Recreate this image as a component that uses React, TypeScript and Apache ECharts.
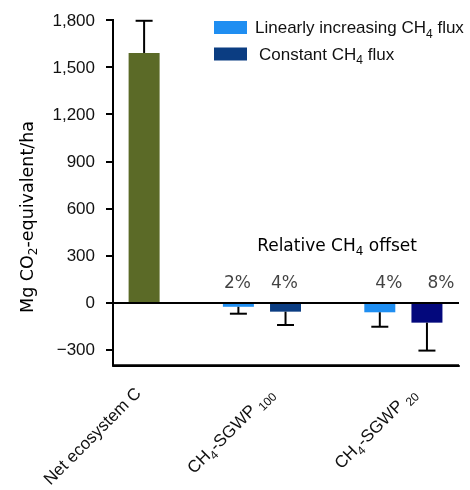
import React, { useEffect, useRef } from 'react';
import * as echarts from 'echarts';

// ---- data ----
const categories = ['Net ecosystem C', 'CH4-SGWP 100', 'CH4-SGWP 20'];
const netValues = [1590];
const netErrors = [205];
const linearValues = [-27, -62];
const linearErrors = [44, 92];
const constantValues = [-58, -128];
const constantErrors = [85, 178];
const offsetLabels = ['2%', '4%', '4%', '8%'];
const yTicks = [-300, 0, 300, 600, 900, 1200, 1500, 1800];

// ---- layout (bar slots on x axis) ----
const X_MIN = -0.66;
const X_MAX = 6.68;
const Y_MIN = -400;
const Y_MAX = 1800;
const netSlots = [0];
const linearSlots = [2, 5];
const constantSlots = [3, 6];
const categorySlots = [-0.13, 2.68, 5.7];
const pctSlots = [2, 3, 5, 6];
const pctOffsets = [-1, -1, 9, 14];
const pctY = 130;

const AR = '"Liberation Sans", Arial, Helvetica, sans-serif';
const DJ = '"DejaVu Sans", Verdana, sans-serif';
const TXT = '#111';

const richA = {
  t: { fontFamily: AR, fontSize: 17, color: TXT, lineHeight: 20 },
  s: { fontFamily: AR, fontSize: 12, color: TXT, lineHeight: 20, padding: [6, 0, -6, 0] },
};
const richD = {
  t: { fontFamily: DJ, fontSize: 17, color: TXT, lineHeight: 20 },
  s: { fontFamily: DJ, fontSize: 12, color: TXT, lineHeight: 20, padding: [6, 0, -6, 0] },
};
const richD18 = {
  t: { fontFamily: DJ, fontSize: 17.5, color: TXT, lineHeight: 20 },
  s: { fontFamily: DJ, fontSize: 12, color: TXT, lineHeight: 20, padding: [6, 0, -6, 0] },
};
const richLegend = {
  l: { fontFamily: AR, fontSize: 17, color: TXT, lineHeight: 20, padding: [0, 0, 0, 3] },
  c: { fontFamily: AR, fontSize: 17, color: TXT, lineHeight: 20, padding: [0, 0, 0, 7] },
  t: { fontFamily: AR, fontSize: 17, color: TXT, lineHeight: 20 },
  s: { fontFamily: AR, fontSize: 12, color: TXT, lineHeight: 20, padding: [6, 0, -6, 0] },
};

const LINEAR = 'Linearly increasing CH4 flux';
const CONSTANT = 'Constant CH4 flux';

function catLabel(name: string) {
  if (name.startsWith('CH4-SGWP')) {
    const n = name.split(' ')[1];
    return `{t|CH}{s|4}{t|-SGWP }{s|${n}}`;
  }
  return `{t|${name}}`;
}

export default function App() {
  const ref = useRef<HTMLDivElement>(null);
  useEffect(() => {
    if (!ref.current) return;
    const chart = echarts.init(ref.current, undefined, { renderer: 'svg' });

    const errData: number[][] = [];
    netSlots.forEach((x, i) => errData.push([x, netValues[i], netValues[i] + netErrors[i]]));
    linearSlots.forEach((x, i) => errData.push([x, linearValues[i], linearValues[i] - linearErrors[i]]));
    constantSlots.forEach((x, i) => errData.push([x, constantValues[i], constantValues[i] - constantErrors[i]]));

    const option: any = {
      animation: false,
      grid: { left: 113, right: 11, top: 20, bottom: 124 },
      legend: {
        orient: 'vertical',
        left: 214,
        top: 19,
        padding: 0,
        itemWidth: 33,
        itemHeight: 13,
        itemGap: 6,
        icon: 'rect',
        data: [LINEAR, CONSTANT],
        formatter: (name: string) =>
          name === LINEAR ? '{l|Linearly increasing CH}{s|4}{t| flux}' : '{c|Constant CH}{s|4}{t| flux}',
        textStyle: { rich: richLegend },
      },
      xAxis: {
        type: 'value',
        z: 100,
        min: X_MIN,
        max: X_MAX,
        splitLine: { show: false },
        axisLine: { show: true, onZero: false, lineStyle: { color: '#000', width: 2 } },
        axisTick: { show: false },
        axisLabel: {
          customValues: categorySlots,
          rotate: 45,
          margin: 25,
          formatter: (v: number) => {
            const i = categorySlots.findIndex((s) => Math.abs(s - v) < 0.001);
            return i >= 0 ? catLabel(categories[i]) : '';
          },
          rich: richA,
        },
      },
      yAxis: {
        type: 'value',
        z: 100,
        min: Y_MIN,
        max: Y_MAX,
        splitLine: { show: false },
        axisLine: { show: true, onZero: false, lineStyle: { color: '#000', width: 2 } },
        axisTick: { show: true, customValues: yTicks, length: 7, lineStyle: { color: '#000', width: 2 } },
        axisLabel: {
          customValues: yTicks,
          margin: 18,
          fontFamily: AR,
          fontSize: 17,
          color: TXT,
          formatter: (v: number) => (v < 0 ? '\u2212' : '') + Math.abs(v).toLocaleString('en-US'),
        },
      },
      graphic: [
        {
          type: 'text',
          x: 27,
          y: 217,
          rotation: Math.PI / 2,
          style: {
            text: '{t|Mg CO}{s|2}{t|-equivalent/ha}',
            rich: richD18,
            align: 'center',
            verticalAlign: 'middle',
          },
        },
        {
          type: 'text',
          x: 337,
          y: 245,
          style: {
            text: '{t|Relative CH}{s|4}{t| offset}',
            rich: richD,
            align: 'center',
            verticalAlign: 'middle',
          },
        },
      ],
      series: [
        {
          name: 'Net ecosystem C',
          type: 'bar',
          barWidth: 31,
          barGap: '-100%',
          itemStyle: { color: '#5b6a27' },
          data: netSlots.map((x, i) => [x, netValues[i]]),
          markLine: {
            silent: true,
            symbol: ['none', 'none'],
            label: { show: false },
            lineStyle: { color: '#000', width: 2, type: 'solid' },
            data: [{ yAxis: 0 }],
          },
        },
        {
          name: LINEAR,
          type: 'bar',
          barWidth: 31,
          barGap: '-100%',
          itemStyle: { color: '#1f8ef1' },
          data: linearSlots.map((x, i) => [x, linearValues[i]]),
        },
        {
          name: CONSTANT,
          type: 'bar',
          barWidth: 31,
          barGap: '-100%',
          itemStyle: { color: '#0b3d82' },
          data: constantSlots.map((x, i) =>
            i === 1 ? { value: [x, constantValues[i]], itemStyle: { color: '#03087c' } } : [x, constantValues[i]]
          ),
        },
        {
          name: 'errors',
          type: 'custom',
          z: 5,
          clip: false,
          encode: { x: 0, y: [1, 2] },
          data: errData,
          renderItem: (params: any, api: any) => {
            const x = api.value(0);
            const p0 = api.coord([x, api.value(1)]);
            const p1 = api.coord([x, api.value(2)]);
            const half = 8.5;
            return {
              type: 'group',
              children: [
                { type: 'line', shape: { x1: p0[0], y1: p0[1], x2: p1[0], y2: p1[1] }, style: { stroke: '#000', lineWidth: 2 } },
                { type: 'line', shape: { x1: p1[0] - half, y1: p1[1], x2: p1[0] + half, y2: p1[1] }, style: { stroke: '#000', lineWidth: 2 } },
              ],
            };
          },
        },
        {
          name: 'frame',
          type: 'custom',
          z: 100,
          clip: false,
          silent: true,
          encode: { x: 0, y: 1 },
          data: [[X_MIN, Y_MIN]],
          renderItem: (params: any, api: any) => {
            const o = api.coord([X_MIN, Y_MIN]);
            const top = api.coord([X_MIN, Y_MAX]);
            const right = api.coord([X_MAX, Y_MIN]);
            return {
              type: 'group',
              children: [
                { type: 'line', z2: 100, shape: { x1: o[0], y1: o[1] + 1, x2: top[0], y2: top[1] - 1 }, style: { stroke: '#000', lineWidth: 2, opacity: 1 } },
                { type: 'line', z2: 100, shape: { x1: o[0] - 1, y1: o[1], x2: right[0], y2: right[1] }, style: { stroke: '#000', lineWidth: 2, opacity: 1 } },
              ],
            };
          },
        },
        {
          name: 'offsets',
          type: 'scatter',
          symbolSize: 1,
          itemStyle: { color: 'rgba(0,0,0,0)' },
          data: pctSlots.map((x, i) => ({
            name: offsetLabels[i],
            value: [x, pctY],
            label: { offset: [pctOffsets[i], 0] },
          })),
          label: {
            show: true,
            position: 'inside',
            formatter: (p: any) => p.name,
            fontFamily: DJ,
            fontSize: 17,
            color: TXT,
          },
        },
      ],
    };
    chart.setOption(option);
    return () => chart.dispose();
  }, []);
  return <div ref={ref} style={{ position: 'fixed', left: 0, top: 0, width: 470, height: 490 }} />;
}
